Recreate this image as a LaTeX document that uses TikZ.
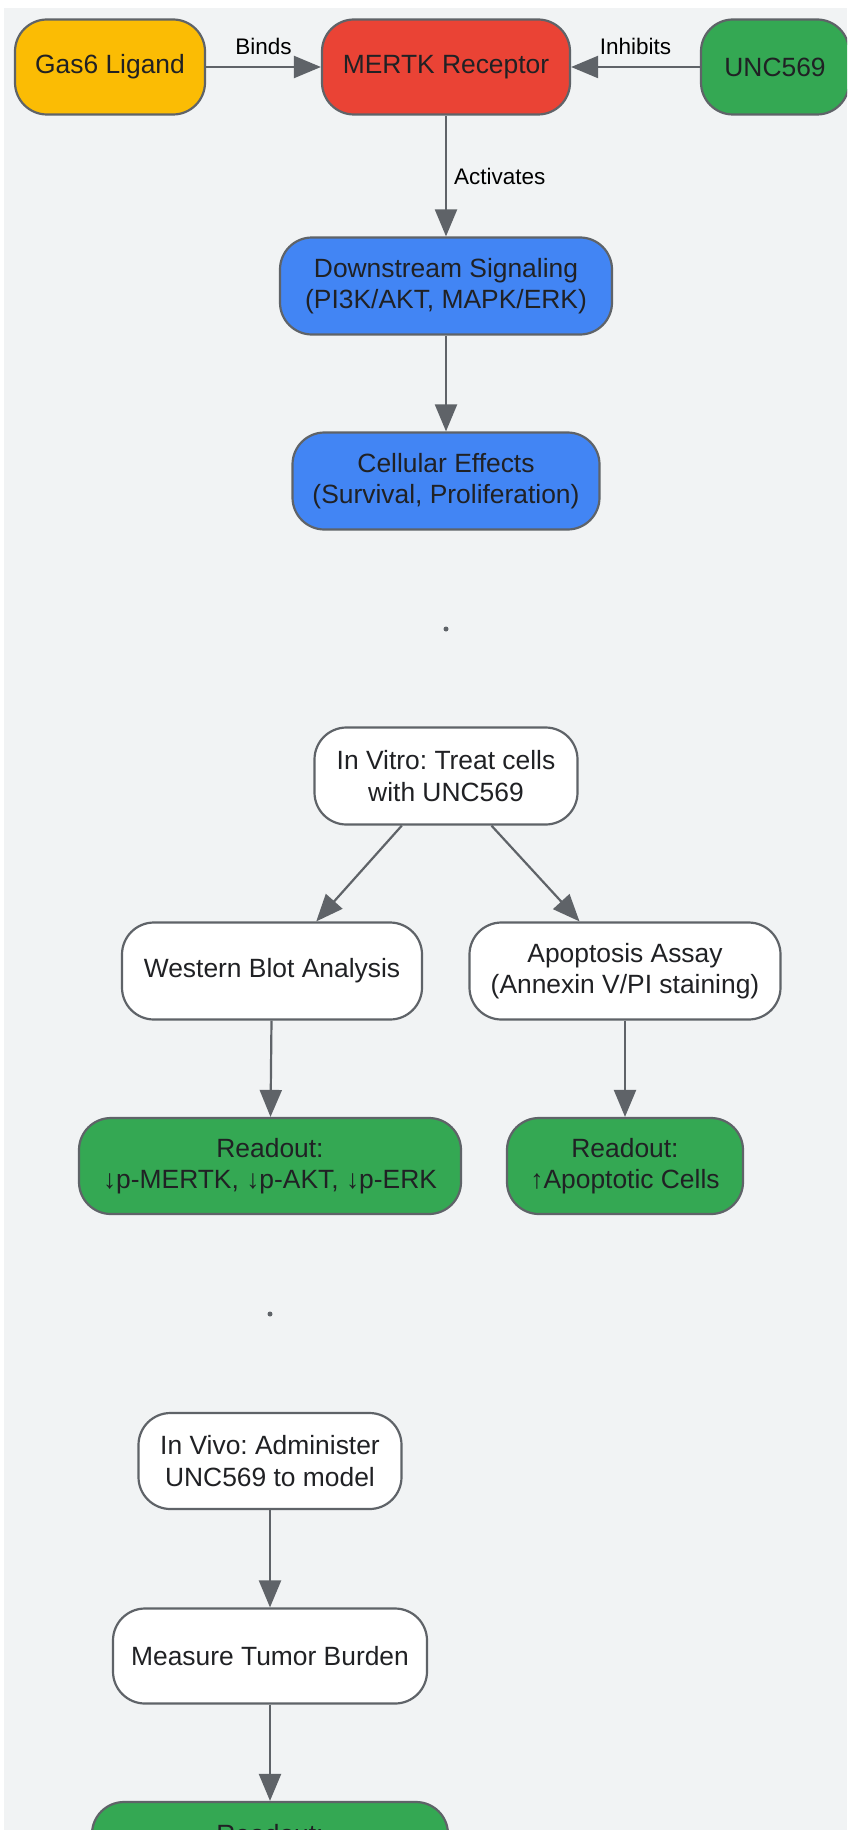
\documentclass[tikz,border=0pt]{standalone}
\usepackage{fontspec}
\setmainfont{Liberation Sans}
\usetikzlibrary{arrows.meta}
\definecolor{bg}{HTML}{F1F3F4}
\definecolor{bordc}{HTML}{5F6368}
\definecolor{txt}{HTML}{202124}
\definecolor{cyellow}{HTML}{FBBC04}
\definecolor{cred}{HTML}{EA4335}
\definecolor{cgreen}{HTML}{34A853}
\definecolor{cblue}{HTML}{4285F4}
\frenchspacing
\tikzset{
  box/.style={draw=bordc, line width=2.2pt, rounded corners=32pt, align=center,
    text=txt, font=\fontsize{26.4}{31.5}\selectfont, inner sep=0pt},
  conn/.style={draw=bordc, line width=2.2pt, -{Triangle[length=27pt,width=22pt]}},
  lbl/.style={text=black, font=\fontsize{22.5}{26}\selectfont, inner sep=0pt},
  dotnode/.style={circle, fill=bordc, minimum size=5pt, inner sep=0pt}
}
\begin{document}
\begin{tikzpicture}[x=1pt,y=-1pt]
\useasboundingbox (0,0) rectangle (847,1830);
\clip (0,0) rectangle (847,1830);
\fill[bg] (4,8) rectangle (847,1830);

\node[box, fill=cyellow, minimum width=190pt, minimum height=95pt] (gas) at (110,67) {Gas6 Ligand};
\node[box, fill=cred, minimum width=248pt, minimum height=95pt] (mertk) at (446,67) {MERTK Receptor};
\node[box, fill=cgreen, minimum width=148pt, minimum height=95pt] (unc) at (775,67) {UNC569};
\node[box, fill=cblue, minimum width=332pt, minimum height=97pt] (down) at (446,286) {Downstream Signaling\\(PI3K/AKT, MAPK/ERK)};
\node[box, fill=cblue, minimum width=307pt, minimum height=97pt] (cell) at (446,481) {Cellular Effects\\(Survival, Proliferation)};
\node[dotnode] (dot1) at (446,629) {};
\node[box, fill=white, minimum width=263pt, minimum height=97pt] (vitro) at (446,776) {In Vitro: Treat cells\\with UNC569};
\node[box, fill=white, minimum width=300pt, minimum height=97pt] (wb) at (272,971) {Western Blot Analysis};
\node[box, fill=white, minimum width=311pt, minimum height=97pt] (apo) at (625,971) {Apoptosis Assay\\(Annexin V/PI staining)};
\node[box, fill=cgreen, minimum width=382pt, minimum height=96pt] (r1) at (270,1166) {Readout:\\↓p-MERTK, ↓p-AKT, ↓p-ERK};
\node[box, fill=cgreen, minimum width=236pt, minimum height=96pt] (r2) at (625,1166) {Readout:\\↑Apoptotic Cells};
\node[dotnode] (dot2) at (270,1314) {};
\node[box, fill=white, minimum width=263pt, minimum height=96pt] (vivo) at (270,1461) {In Vivo: Administer\\UNC569 to model};
\node[box, fill=white, minimum width=314pt, minimum height=95pt] (meas) at (270,1656) {Measure Tumor Burden};
\node[box, fill=cgreen, minimum width=356pt, minimum height=96pt] (r3) at (270,1850) {Readout:\\\phantom{X}};

\draw[conn] (gas) -- (mertk) node[lbl, midway, above=11pt] {Binds};
\draw[conn] (unc) -- (mertk) node[lbl, midway, above=11pt] {Inhibits};
\draw[conn] (mertk) -- (down) node[lbl, midway, right=7pt] {Activates};
\draw[conn] (down) -- (cell);
\draw[conn] (vitro) -- (wb);
\draw[conn] (vitro) -- (apo);
\draw[conn] (wb) -- (r1);
\draw[conn] (apo) -- (r2);
\draw[conn] (vivo) -- (meas);
\draw[conn] (meas) -- (r3);
\end{tikzpicture}
\end{document}
